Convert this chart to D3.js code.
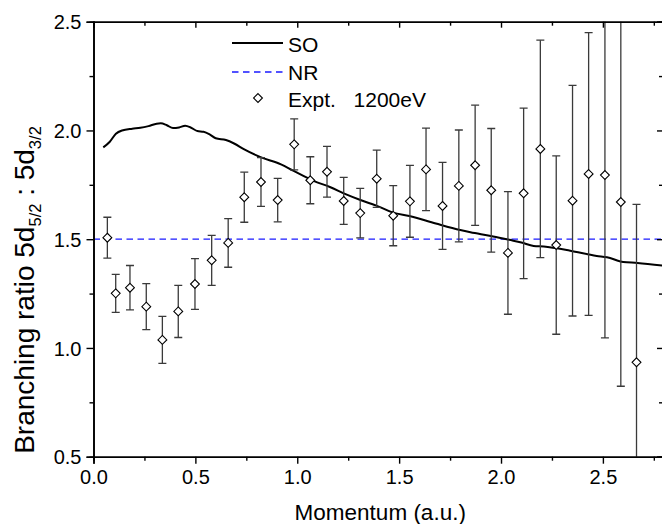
<!DOCTYPE html>
<html>
<head>
<meta charset="utf-8">
<script src="https://cdn.jsdelivr.net/npm/d3@7"></script>
<style>
html,body{margin:0;padding:0;background:#fff;}
svg{display:block;font-family:"Liberation Sans",Arial,sans-serif;}
</style>
</head>
<body>
<svg id="chart" width="662" height="524"></svg>
<script>
// ---- data ----
const soX = [0.048,0.08,0.11,0.14,0.19,0.23,0.27,0.31,0.33,0.36,0.39,0.42,0.45,0.48,0.51,0.54,0.57,0.60,0.65,0.69,0.74,0.82,0.92,0.98,1.08,1.16,1.24,1.31,1.40,1.47,1.55,1.68,1.80,1.85,1.95,2.04,2.10,2.16,2.21,2.34,2.47,2.52,2.60,2.67,2.795];
const soY = [1.922,1.948,1.985,2.000,2.008,2.012,2.020,2.031,2.033,2.024,2.011,2.014,2.022,2.012,1.997,1.994,1.982,1.964,1.956,1.940,1.913,1.877,1.844,1.815,1.768,1.740,1.706,1.680,1.650,1.622,1.607,1.572,1.542,1.532,1.515,1.497,1.485,1.469,1.466,1.447,1.423,1.417,1.395,1.391,1.378];
const nrValue = 1.5;
const exptX = [0.068,0.109,0.179,0.259,0.338,0.416,0.498,0.580,0.661,0.740,0.822,0.904,0.985,1.064,1.146,1.228,1.309,1.390,1.471,1.553,1.632,1.713,1.793,1.873,1.952,2.034,2.111,2.193,2.271,2.351,2.430,2.510,2.588,2.665];
const exptY = [1.507,1.251,1.277,1.190,1.037,1.168,1.294,1.403,1.483,1.693,1.763,1.680,1.936,1.771,1.810,1.676,1.620,1.778,1.608,1.674,1.821,1.653,1.745,1.840,1.725,1.437,1.711,1.915,1.473,1.677,1.800,1.795,1.671,0.934];
const exptErr = [0.094,0.087,0.102,0.106,0.108,0.120,0.117,0.115,0.112,0.115,0.112,0.100,0.117,0.108,0.117,0.108,0.114,0.132,0.138,0.165,0.190,0.200,0.257,0.276,0.284,0.282,0.392,0.500,0.410,0.530,0.650,0.749,0.847,0.726];
const xTicks = [0.0,0.5,1.0,1.5,2.0,2.5];
const yTicks = [0.5,1.0,1.5,2.0,2.5];
const legendLabels = ["SO","NR","Expt.  1200eV"];

// ---- layout ----
const svg = d3.select("#chart");
const L = 93.5, R = 663, T = 21.7, B = 456.7;
const x = d3.scaleLinear().domain([0, 2.795]).range([L, R]);
const y = d3.scaleLinear().domain([0.5, 2.5]).range([B, T]);

svg.append("defs").append("clipPath").attr("id","clip")
  .append("rect").attr("x",L).attr("y",T).attr("width",R-L).attr("height",B-T);

const plot = svg.append("g").attr("clip-path","url(#clip)");

// NR dashed line
plot.append("line")
  .attr("x1", x(0)).attr("x2", x(2.795))
  .attr("y1", y(nrValue)).attr("y2", y(nrValue))
  .attr("stroke","#1a1aff").attr("stroke-width",1.3)
  .attr("stroke-dasharray","6.5,4.5");

// SO line
const soData = soX.map((v,i)=>[v,soY[i]]);
plot.append("path")
  .datum(soData)
  .attr("fill","none").attr("stroke","#000").attr("stroke-width",2)
  .attr("d", d3.line().x(d=>x(d[0])).y(d=>y(d[1])).curve(d3.curveMonotoneX));

// Error bars
const expt = exptX.map((v,i)=>({x:v,y:exptY[i],e:exptErr[i]}));
const eb = plot.append("g").attr("stroke","#3a3a3a").attr("stroke-width",1.3);
const cap = 4;
expt.forEach(d=>{
  const cx = x(d.x), y1 = y(d.y + d.e), y2 = y(d.y - d.e);
  eb.append("line").attr("x1",cx).attr("x2",cx).attr("y1",y1).attr("y2",y2);
  eb.append("line").attr("x1",cx-cap).attr("x2",cx+cap).attr("y1",y1).attr("y2",y1);
  eb.append("line").attr("x1",cx-cap).attr("x2",cx+cap).attr("y1",y2).attr("y2",y2);
});

// Diamonds
const sym = d3.symbol().type(d3.symbolDiamond2).size(50);
plot.append("g").selectAll("path").data(expt).join("path")
  .attr("transform", d=>`translate(${x(d.x)},${y(d.y)})`)
  .attr("d", sym)
  .attr("fill","#fff").attr("stroke","#000").attr("stroke-width",1.1);

// ---- axes ----
const fs = 20;
const xAxisB = d3.axisBottom(x).tickValues(xTicks).tickFormat(d3.format(".1f")).tickSize(7).tickPadding(6.5);
const gxb = svg.append("g").attr("transform",`translate(0,${B})`).call(xAxisB);
const yAxisL = d3.axisLeft(y).tickValues(yTicks).tickFormat(d3.format(".1f")).tickSize(7).tickPadding(5);
const gyl = svg.append("g").attr("transform",`translate(${L},0)`).call(yAxisL);
const xAxisT = d3.axisTop(x).tickValues(xTicks).tickFormat("").tickSize(-6);
const gxt = svg.append("g").attr("transform",`translate(0,${T})`).call(xAxisT);
const yAxisR = d3.axisRight(y).tickValues(yTicks).tickFormat("").tickSize(-6);
const gyr = svg.append("g").attr("transform",`translate(${R},0)`).call(yAxisR);

// minor ticks
const xMinor = d3.range(0.25, 2.8, 0.5);
const yMinor = d3.range(0.75, 2.5, 0.5);
const minorX1 = svg.append("g").attr("transform",`translate(0,${B})`).call(d3.axisBottom(x).tickValues(xMinor).tickFormat("").tickSize(4));
const minorX2 = svg.append("g").attr("transform",`translate(0,${T})`).call(d3.axisTop(x).tickValues(xMinor).tickFormat("").tickSize(-4));
const minorY1 = svg.append("g").attr("transform",`translate(${L},0)`).call(d3.axisLeft(y).tickValues(yMinor).tickFormat("").tickSize(4));
const minorY2 = svg.append("g").attr("transform",`translate(${R},0)`).call(d3.axisRight(y).tickValues(yMinor).tickFormat("").tickSize(-4));

[gxb,gyl,gxt,gyr,minorX1,minorX2,minorY1,minorY2].forEach(g=>{
  g.select(".domain").attr("stroke","#000").attr("stroke-width",1.6);
  g.selectAll(".tick line").attr("stroke","#000").attr("stroke-width",1.4);
  g.selectAll("text").attr("font-size",fs).attr("font-family","Liberation Sans, Arial, sans-serif").attr("fill","#000");
});
gyl.selectAll("text").attr("dy","0.36em");

// axis titles
svg.append("text")
  .attr("x",(L+R)/2+2).attr("y",520)
  .attr("text-anchor","middle").attr("font-size",22.5)
  .text("Momentum (a.u.)");

const yt = svg.append("text")
  .attr("transform","translate(34,290) rotate(-90)")
  .attr("text-anchor","middle").attr("font-size",28);
yt.append("tspan").text("Branching ratio 5d");
yt.append("tspan").attr("font-size",16.5).attr("dy",7).text("5/2");
yt.append("tspan").attr("dy",-7).text(" : 5d");
yt.append("tspan").attr("font-size",16.5).attr("dy",7).text("3/2");

// ---- legend ----
const lg = svg.append("g");
lg.append("line").attr("x1",232).attr("x2",283).attr("y1",43).attr("y2",43)
  .attr("stroke","#000").attr("stroke-width",2);
lg.append("line").attr("x1",232).attr("x2",283).attr("y1",72).attr("y2",72)
  .attr("stroke","#1a1aff").attr("stroke-width",1.3).attr("stroke-dasharray","6.5,4.5");
lg.append("path").attr("transform","translate(258,98)").attr("d",sym)
  .attr("fill","#fff").attr("stroke","#000").attr("stroke-width",1.1);
const ly = [44,72,99];
legendLabels.forEach((t,i)=>{
  lg.append("text").attr("x",288).attr("y",ly[i]).attr("dy","0.36em")
    .attr("font-size",21).attr("word-spacing",3).style("white-space","pre").text(t);
});
</script>
</body>
</html>
